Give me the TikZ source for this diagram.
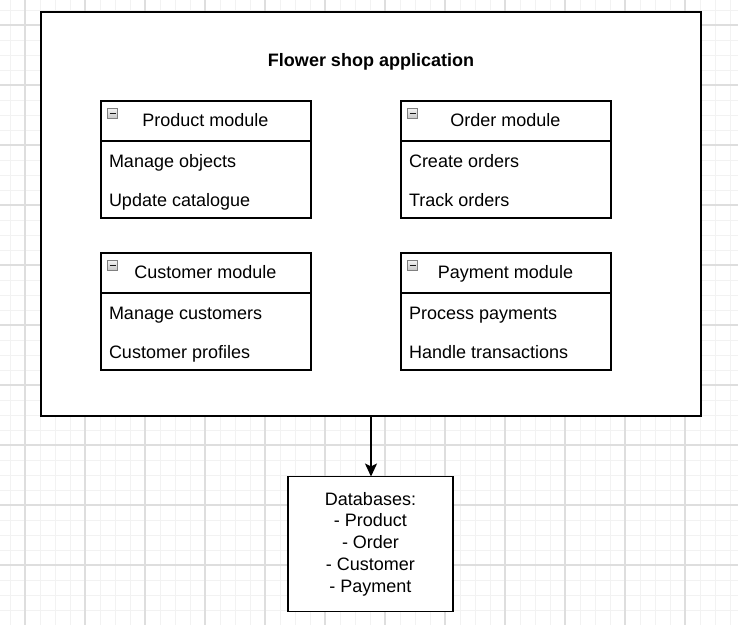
\documentclass[tikz,border=0pt]{standalone}
\usepackage{fontspec}
\setmainfont{Liberation Sans}
\usetikzlibrary{arrows.meta}
\begin{document}
\begin{tikzpicture}[x=1pt,y=-1pt,
  minorgrid/.style={draw=black!5,line width=1pt},
  majorgrid/.style={draw=black!13,line width=1.3pt},
  box/.style={draw=black,line width=1.5pt,fill=white,inner sep=0pt,outer sep=0pt},
  lbl/.style={font=\fontsize{18}{21.7}\selectfont,inner sep=0pt,outer sep=0pt},
  itemtext/.style={lbl,anchor=base west},
  headtext/.style={lbl,anchor=base},
  collapse/.style={draw=black!50,line width=0.9pt,top color=black!5,bottom color=black!22,minimum size=9.5pt,inner sep=0pt},
  divider/.style={draw=black,line width=1.5pt},
  link/.style={draw=black,line width=1.5pt,-{Stealth[length=13pt,width=12pt,inset=3pt]}},
]
\useasboundingbox (0,0) rectangle (738,625);
\fill[white] (0,0) rectangle (738,625);
% grid
\foreach \v in {10,25,...,730} { \draw[minorgrid] (\v,0) -- (\v,625); }
\foreach \v in {10,25,...,620} { \draw[minorgrid] (0,\v) -- (738,\v); }
\foreach \v in {25,85,...,730} { \draw[majorgrid] (\v,0) -- (\v,625); }
\foreach \v in {25,85,...,580} { \draw[majorgrid] (0,\v) -- (738,\v); }

% application frame
\node[box, minimum width=660pt, minimum height=404pt, anchor=north west] (app) at (41,12) {};
\node[headtext, font=\fontsize{18}{21.7}\selectfont\bfseries] (apptitle) at (371,66) {Flower shop application};

% modules
\foreach \x/\y/\n/\t/\a/\b in {
  101/101/prod/Product module/Manage objects/Update catalogue,
  401/101/order/Order module/Create orders/Track orders,
  101/253/cust/Customer module/Manage customers/Customer profiles,
  401/253/pay/Payment module/Process payments/Handle transactions}
{
  \node[box, minimum width=210pt, minimum height=117pt, anchor=north west] (\n) at (\x,\y) {};
  \draw[divider] ([yshift=-40pt]\n.north west) -- ([yshift=-40pt]\n.north east);
  \node[collapse] (\n-icon) at ({\x+11.5},{\y+12.5}) {};
  \draw[black!90,line width=1.8pt] ([xshift=-3pt]\n-icon.center) -- ([xshift=3pt]\n-icon.center);
  \node[headtext] (\n-title) at ({\x+104.5},{\y+25}) {\t};
  \node[itemtext] (\n-a) at ({\x+8},{\y+66}) {\a};
  \node[itemtext] (\n-b) at ({\x+8},{\y+105}) {\b};
}

% databases
\node[box, lbl, minimum width=165pt, minimum height=135pt, align=center] (db) at (370.5,544) {Databases:\\- Product\\- Order\\- Customer\\- Payment};

\draw[link] (app.south) -- (app.south |- db.north);
\end{tikzpicture}
\end{document}
